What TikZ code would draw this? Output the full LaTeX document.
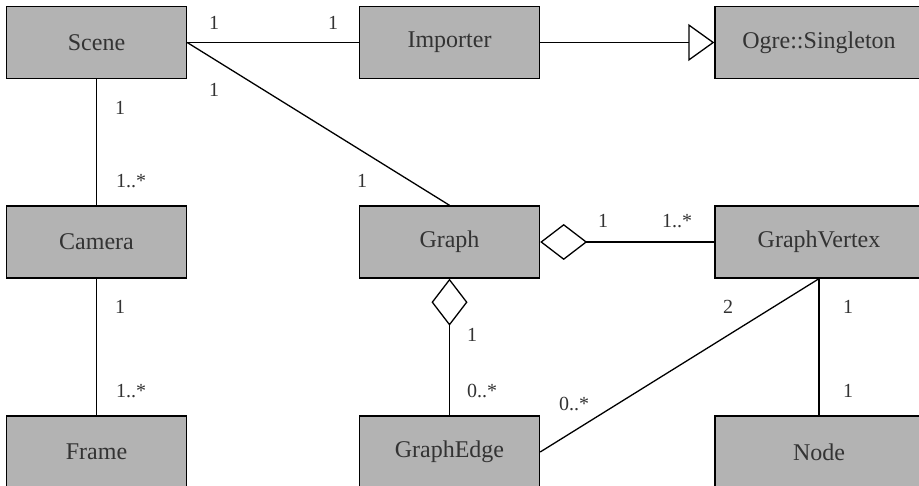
\documentclass[tikz,border=0pt]{standalone}
\usepackage{fontspec}
\setmainfont{Liberation Serif}
\usetikzlibrary{arrows.meta}
\definecolor{boxgray}{RGB}{179,179,179}
\definecolor{textgray}{RGB}{51,51,51}

\begin{document}
\begin{tikzpicture}[x=1pt,y=-1pt,
  cls/.style={draw,line width=1.4pt,fill=boxgray,text=textgray,minimum width=180pt,minimum height=72pt,font=\fontsize{24}{28}\selectfont},
  wcls/.style={cls,minimum width=208pt},
  mult/.style={anchor=base,text=textgray,inner sep=0pt,font=\fontsize{20}{24}\selectfont},
  assoc/.style={line width=1.3pt},
  aggr/.style={assoc,{Diamond[open,length=47pt,width=36pt]}-},
  inherit/.style={assoc,-{Triangle[open,length=26pt,width=37pt]}}]
\useasboundingbox (0,0) rectangle (919,486);
% classes
\node[cls] (scene) at (96.5,42.5) {Scene};
\node[cls] (importer) at (449.5,42.5) {Importer};
\node[wcls] (singleton) at (819,42.5) {Ogre::Singleton};
\node[cls] (camera) at (96.5,242) {Camera};
\node[cls] (graph) at (449.5,242) {Graph};
\node[wcls] (vertex) at (819,242) {GraphVertex};
\node[cls] (frame) at (96.5,452) {Frame};
\node[cls] (edge) at (449.5,452) {GraphEdge};
\node[wcls] (ogrenode) at (819,452) {Node};
% relations
\draw[assoc] (scene) -- (importer);
\draw[inherit] (importer) -- (singleton);
\draw[assoc] (scene.east) -- (graph.north);
\draw[assoc] (scene) -- (camera);
\draw[assoc] (camera) -- (frame);
\draw[aggr] (graph) -- (vertex);
\draw[aggr] (graph) -- (edge);
\draw[assoc] (edge.east) -- (vertex.south);
\draw[assoc] (vertex) -- (ogrenode);
% multiplicities
\node[mult] (m1) at (214,30) {1};
\node[mult] (m2) at (333,30) {1};
\node[mult] (m3) at (214,97) {1};
\node[mult] (m4) at (362,188) {1};
\node[mult] (m5) at (120,115) {1};
\node[mult] (m6) at (131,188) {1..*};
\node[mult] (m7) at (120,314) {1};
\node[mult] (m8) at (131,398) {1..*};
\node[mult] (m9) at (603,228) {1};
\node[mult] (m10) at (677,228) {1..*};
\node[mult] (m11) at (472,342) {1};
\node[mult] (m12) at (482,398) {0..*};
\node[mult] (m13) at (728,314) {2};
\node[mult] (m14) at (574,410) {0..*};
\node[mult] (m15) at (848,314) {1};
\node[mult] (m16) at (848,398) {1};
\end{tikzpicture}
\end{document}
